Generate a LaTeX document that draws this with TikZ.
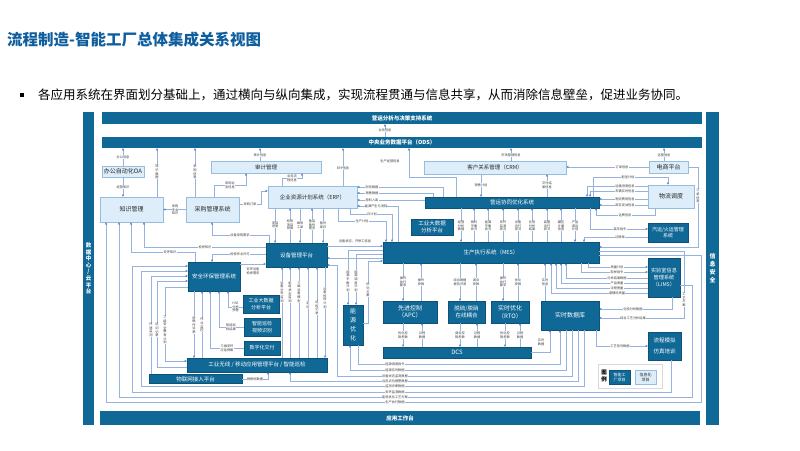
\documentclass[tikz,border=0pt]{standalone}
\usepackage{fontspec}
\setmainfont{Noto Sans CJK SC}
\usetikzlibrary{arrows.meta}
\definecolor{dk}{RGB}{16,104,150}
\definecolor{lt}{RGB}{221,238,250}
\definecolor{ltb}{RGB}{150,188,222}
\definecolor{lnc}{RGB}{150,178,222}
\definecolor{arc}{RGB}{60,110,185}
\definecolor{tbc}{RGB}{14,94,158}
\definecolor{labc}{RGB}{60,60,60}
\tikzset{
 bar/.style={fill=dk, text=white, inner sep=0, align=center, font=\fontsize{5.5}{6.5}\selectfont\bfseries},
 dbox/.style={fill=dk, draw=dk!80!black, line width=0.3pt, text=white, inner sep=0, align=center, font=\fontsize{5.5}{6.6}\selectfont},
 lbox/.style={fill=lt, draw=ltb, line width=0.5pt, text=black!85, inner sep=0, align=center, font=\fontsize{6}{7}\selectfont},
 conn/.style={draw=lnc, line width=0.5pt},
 arr/.style={conn, -{Stealth[length=2.4pt,width=2pt,color=arc]}},
 lab/.style={fill=white, inner sep=0.25pt, text=labc, align=center, font=\fontsize{3.2}{3.6}\selectfont},
}
\begin{document}
\begin{tikzpicture}[x=1pt,y=-1pt]
\fill[white] (0,0) rectangle (800,450);
\useasboundingbox (0,0) rectangle (800,450);

% title and bullet
\node[anchor=west, inner sep=0, text=tbc, font=\fontsize{15.5}{18}\selectfont\bfseries] (title) at (7,40) {流程制造-智能工厂总体集成关系视图};
\node[fill=black, minimum size=3.6, inner sep=0] (bsq) at (22,95) {};
\node[anchor=west, inner sep=0, font=\fontsize{12.5}{15}\selectfont] (bul) at (38,95) {各应用系统在界面划分基础上，通过横向与纵向集成，实现流程贯通与信息共享，从而消除信息壁垒，促进业务协同。};

% frame bars
\node[bar, minimum width=600, minimum height=12] (top) at (402,118) {营运分析与决策支持系统};
\node[bar, minimum width=600, minimum height=11] (ods) at (402,142.5) {中央业务数据平台（ODS）};
\node[bar, minimum width=600, minimum height=14] (app) at (400,418) {应用工作台};
\node[bar, minimum width=11, minimum height=313, font=\fontsize{5.5}{6.6}\selectfont\bfseries] (dc) at (88.5,268.5) {数\\据\\中\\心\\/\\云\\平\\台};
\node[bar, minimum width=13, minimum height=313, font=\fontsize{6}{8}\selectfont\bfseries] (xa) at (712.5,268.5) {信\\息\\安\\全};

% light boxes
\node[lbox, minimum width=42, minimum height=11] (oa) at (123,171.5) {办公自动化OA};
\node[lbox, minimum width=63, minimum height=25] (km) at (131.5,209.5) {知识管理};
\node[lbox, minimum width=53, minimum height=25] (cg) at (212.5,209.5) {采购管理系统};
\node[lbox, minimum width=110, minimum height=12, font=\fontsize{5.5}{6.5}\selectfont] (sj) at (266,167) {审计管理};
\node[lbox, minimum width=89, minimum height=22, font=\fontsize{5.5}{6.5}\selectfont] (erp) at (312.5,197) {企业资源计划系统（ERP）};
\node[lbox, minimum width=142, minimum height=13, font=\fontsize{5.5}{6.5}\selectfont] (crm) at (495,167.5) {客户关系管理（CRM）};
\node[lbox, minimum width=39, minimum height=12] (ds) at (668.5,167) {电商平台};
\node[lbox, minimum width=46, minimum height=23] (wl) at (671,196.5) {物流调度};

% dark boxes
\node[dbox, minimum width=174, minimum height=11] (yy) at (512,202.5) {营运协同优化系统};
\node[dbox, minimum width=42, minimum height=16] (bd1) at (432,227) {工业大数据\\分析平台};
\node[dbox, minimum width=216, minimum height=21] (mes) at (491,252.5) {生产执行系统（MES）};
\node[dbox, minimum width=40, minimum height=19, font=\fontsize{5}{6.2}\selectfont] (qy) at (668,232.5) {汽运/火运管理\\系统};
\node[dbox, minimum width=32, minimum height=39, font=\fontsize{5.2}{6.6}\selectfont] (lims) at (664,277.5) {实验室信息\\管理系统\\（LIMS）};
\node[dbox, minimum width=33, minimum height=28] (fz) at (664.5,346) {流程模拟\\[4pt]仿真培训};
\node[dbox, minimum width=61, minimum height=24] (sb) at (296.5,255) {设备管理平台};
\node[dbox, minimum width=52, minimum height=29] (aq) at (214,276.5) {安全环保管理系统};
\node[dbox, minimum width=36, minimum height=18, font=\fontsize{5}{6.2}\selectfont] (bd2) at (261,304) {工业大数据\\分析平台};
\node[dbox, minimum width=36, minimum height=18, font=\fontsize{5}{6.2}\selectfont] (xj) at (262,327) {智能巡检\\视频识别};
\node[dbox, minimum width=36, minimum height=14, font=\fontsize{5}{6.2}\selectfont] (jf) at (262,348) {数字化交付};
\node[dbox, minimum width=140, minimum height=14] (gy) at (257,365) {工业无线 / 移动应用管理平台 / 智能巡检};
\node[dbox, minimum width=93, minimum height=9] (wlw) at (195.5,379) {物联网接入平台};
\node[dbox, minimum width=20, minimum height=40, font=\fontsize{6}{9}\selectfont] (ny) at (353,325) {能\\源\\优\\化};
\node[dbox, minimum width=54, minimum height=22, font=\fontsize{6}{7.5}\selectfont] (apc) at (410,312) {先进控制\\（APC）};
\node[dbox, minimum width=37, minimum height=22, font=\fontsize{5.5}{7}\selectfont] (tl) at (466.5,312) {脱硫/脱硝\\在线耦合};
\node[dbox, minimum width=38, minimum height=22, font=\fontsize{6}{7.5}\selectfont] (rto) at (510,312) {实时优化\\（RTO）};
\node[dbox, minimum width=58, minimum height=29, font=\fontsize{6}{7.5}\selectfont] (sjk) at (570,315.5) {实时数据库};
\node[dbox, minimum width=148, minimum height=11, font=\fontsize{6}{7}\selectfont] (dcs) at (457,352.5) {DCS};

% legend
\node[draw=black!15, fill=white, line width=0.4pt, minimum width=64, minimum height=24, inner sep=0] (lgd) at (630,376) {};
\node[inner sep=0, align=center, font=\fontsize{5.5}{6.5}\selectfont\bfseries] (lgt) at (604,376) {图\\例};
\node[dbox, minimum width=21, minimum height=14, font=\fontsize{4}{5}\selectfont] (lg1) at (619.5,377) {智能工\\厂项目};
\node[lbox, minimum width=21, minimum height=14, font=\fontsize{4}{5}\selectfont] (lg2) at (645.5,377) {信息化\\项目};

% ---------- connectors: top ----------
\draw[arr] (ods.north -| 385,0) -- (top.south -| 385,0);
\node[lab] at (385,130.5) {业务信息};
\draw[arr] (oa.north) -- (oa.north |- ods.south);
\node[lab] at (123,157) {办公信息};
\draw[arr] (km.north -| 157,0) -- (ods.south -| 157,0);
\node[lab] at (157,172) {知\\识\\数\\据};
\draw[arr] (cg.north -| 195,0) -- (ods.south -| 195,0);
\node[lab] at (195,172) {采\\购\\信\\息};
\draw[arr] (sj.north -| 260,0) -- (ods.south -| 260,0);
\node[lab] at (260,155) {审计信息};
\draw[arr] (erp.north -| 343,0) -- (ods.south -| 343,0);
\node[lab] at (343,168) {ERP信息};
\draw[arr] (yy.north -| 456,0) -- (456,177) -- (409,177) -- (ods.south -| 409,0);
\node[lab] at (390,161) {生产经营信息};
\draw[arr] (crm.north -| 511,0) -- (ods.south -| 511,0);
\node[lab] at (511,155) {市场营销信息};
\draw[arr] (ds.north -| 664,0) -- (ods.south -| 664,0);
\node[lab] at (664,155) {运营信息};
\draw[arr] (ds.west) -- (crm.east |- ds.west);
\node[lab] at (622,167) {订单信息};
\draw[arr] (crm.south -| 481,0) -- (yy.north -| 481,0);
\node[lab] at (481,185) {销售计划};
\draw[arr] (yy.north -| 547,0) -- (crm.south -| 547,0);
\node[lab] at (547,185) {交付结\\果信息};

% ---------- left top ----------
\draw[arr] (oa.south) -- (oa.south |- km.north);
\node[lab] at (123,187) {经营知识};
\draw[arr] (cg.west) -- (km.east);
\node[lab] at (175,210) {采购\\专业\\知识};
\draw[arr] (cg.north -| 214,0) -- (214,185) -- (246,185) -- (sj.south -| 246,0);
\node[lab] at (230,185) {采购业\\务信息};
\draw[arr] (erp.north -| 282,0) -- (282,178) -- (302,178) -- (sj.south -| 302,0);
\node[lab] at (292,178) {业务流\\程信息};
\draw[arr] (cg.east |- 0,204) -- (261,204) -- (261,191) -- (erp.west |- 0,191);
\node[lab] at (250,204) {采购订单};

% ---------- ERP - equipment ----------
\draw[arr] (erp.south -| 275,0) -- (sb.north -| 275,0);
\node[lab] at (275,225) {项目\\进度};
\draw[arr] (sb.north -| 290,0) -- (erp.south -| 290,0);
\node[lab] at (290,225) {检修\\项目\\预算};
\draw[arr] (erp.south -| 300,0) -- (sb.north -| 300,0);
\node[lab] at (300,225) {维修\\工单};
\draw[arr] (sb.north -| 312,0) -- (erp.south -| 312,0);
\node[lab] at (312,225) {备品\\备件\\需求};
\draw[arr] (erp.south -| 323,0) -- (sb.north -| 323,0);
\node[lab] at (323,225) {备件\\库存};

% ---------- ERP right ----------
\draw[arr] (yy.north -| 443,0) -- (443,187) -- (erp.east |- 0,187);
\node[lab] at (372,187) {财务数据};
\draw[arr] (yy.north -| 433,0) -- (433,193) -- (erp.east |- 0,193);
\node[lab] at (372,193) {销售数据};
\draw[arr] (yy.west |- 0,200) -- (erp.east |- 0,200);
\node[lab] at (372,200) {原料入库};
\draw[arr] (mes.north -| 398,0) -- (398,206) -- (erp.east |- 0,206);
\node[lab] at (376,206) {能源产生与消耗};
\draw[arr] (erp.south -| 350,0) -- (350,214) -- (392,214) -- (mes.north -| 392,0);
\node[lab] at (372,214) {日计划};
\draw[arr] (erp.south -| 338,0) -- (338,221) -- (386,221) -- (mes.north -| 386,0);
\node[lab] at (362,221) {生产计划};

% ---------- operations - MES ----------
\draw[arr] (yy.south -| 461,0) -- (mes.north -| 461,0);
\node[lab] at (461,226) {经营\\分析\\数据};
\foreach \xx/\tt in {474/{物料\\平衡\\状况},488/{能源\\平衡\\状况},503/{安环\\监测\\状况},518/{设备\\运行\\状况},532/{化验\\分析\\结果},547/{装置\\运行\\状况},561/{罐区\\计量\\信息}}{
  \draw[arr] (mes.north -| \xx,0) -- (yy.south -| \xx,0);
  \node[lab] at (\xx,226) {\tt};
}
\draw[arr] (yy.south -| 575,0) -- (mes.north -| 575,0);
\node[lab] at (575,226) {产品\\调运\\计划};

% ---------- logistics ----------
\draw[arr] (yy.north -| 593,0) -- (593,177) -- (668,177) -- (wl.north -| 668,0);
\node[lab] at (628,177) {配送计划};
\draw[arr] (wl.west |- 0,186) -- (587,186) -- (yy.north -| 587,0);
\node[lab] at (625,186) {运输进度信息};
\draw[arr] (wl.west |- 0,191) -- (590,191) -- (yy.north -| 590,0);
\node[lab] at (625,191.5) {车辆实时信息};
\draw[arr] (wl.west |- 0,199) -- (yy.east |- 0,199);
\node[lab] at (625,199) {物流费用信息};
\draw[arr] (wl.west |- 0,205) -- (yy.east |- 0,205);
\node[lab] at (625,205) {库存变动信息};
\draw[arr] (wl.south -| 655,0) -- (655,215) -- (596,215) -- (yy.south -| 596,0);
\node[lab] at (625,215) {运费信息};
\draw[arr] (yy.south -| 590,0) -- (590,229) -- (qy.west |- 0,229);
\node[lab] at (620,229) {装车指令};
\draw[arr] (qy.west |- 0,237) -- (584,237) -- (mes.north -| 584,0);
\node[lab] at (620,237) {过磅单};
\draw[arr] (ds.east) -- (698,167) -- (698,247) -- (mes.east |- 0,247);
\node[lab] at (698,196) {订\\单\\信\\息};

% ---------- LIMS ----------
\draw[arr] (mes.south -| 588,0) -- (588,267) -- (lims.west |- 0,267);
\node[lab] at (617,267) {质量计划};
\draw[arr] (mes.south -| 581,0) -- (581,272) -- (lims.west |- 0,272);
\node[lab] at (617,272) {取样指令};
\draw[arr] (lims.west |- 0,278) -- (566,278) -- (mes.south -| 566,0);
\node[lab] at (617,278) {分析结果数据};
\draw[arr] (lims.west |- 0,283) -- (561,283) -- (mes.south -| 561,0);
\node[lab] at (617,283) {产品质量};
\draw[arr] (lims.west |- 0,288) -- (556,288) -- (mes.south -| 556,0);
\node[lab] at (617,288) {过程质量};
\draw[arr] (lims.west |- 0,293) -- (551,293) -- (mes.south -| 551,0);
\node[lab] at (617,293) {原辅料质量};
\draw[arr] (lims.south -| 672,0) -- (672,309) -- (sjk.east |- 0,309);
\node[lab] at (633,309) {化验分析数据};
\draw[arr] (mes.east |- 0,251) -- (684,251) -- (684,318) -- (sjk.east |- 0,318);
\node[lab] at (633,318) {综合工艺分析结果};
\node[lab] at (684,300) {工\\艺\\方\\案};
\draw[arr] (sjk.south -| 596,0) -- (596,346) -- (fz.west |- 0,346);
\node[lab] at (620,346) {工艺信号数据};

% ---------- MES - control layer ----------
\draw[arr] (mes.south -| 403,0) -- (apc.north -| 403,0);
\node[lab] at (403,282) {操作\\执行\\要求};
\draw[arr] (apc.north -| 421,0) -- (mes.south -| 421,0);
\node[lab] at (421,282) {操作\\参数};
\draw[arr] (mes.south -| 460,0) -- (tl.north -| 460,0);
\node[lab] at (460,282) {综合数据\\报告评测};
\draw[arr] (tl.north -| 476,0) -- (mes.south -| 476,0);
\node[lab] at (476,282) {调合\\参数};
\draw[arr] (mes.south -| 503,0) -- (rto.north -| 503,0);
\node[lab] at (503,282) {操作\\执行\\要求};
\draw[arr] (rto.north -| 518,0) -- (mes.south -| 518,0);
\node[lab] at (518,282) {优化\\参数};
\draw[arr] (sjk.north -| 545,0) -- (mes.south -| 545,0);
\node[lab] at (545,282) {实时\\信息};

% ---------- control - DCS ----------
\draw[arr] (apc.south -| 403,0) -- (dcs.north -| 403,0);
\node[lab] at (403,335) {优化控\\制参数};
\draw[arr] (dcs.north -| 422,0) -- (apc.south -| 422,0);
\node[lab] at (422,335) {过程\\数据};
\draw[arr] (tl.south -| 460,0) -- (dcs.north -| 460,0);
\node[lab] at (460,335) {调合控\\制参数};
\draw[arr] (dcs.north -| 477,0) -- (tl.south -| 477,0);
\node[lab] at (477,335) {过程\\数据};
\draw[arr] (rto.south -| 505,0) -- (dcs.north -| 505,0);
\node[lab] at (505,335) {优化控\\制参数};
\draw[arr] (dcs.north -| 520,0) -- (rto.south -| 520,0);
\node[lab] at (520,335) {过程\\数据};
\draw[arr] (dcs.east) -- (550,352.5) -- (sjk.south -| 550,0);
\node[lab] at (541,342) {实时\\数据};

% ---------- equipment / energy / MES ----------
\draw[arr] (sb.east |- 0,246) -- (mes.west |- 0,246);
\node[lab] at (355,241) {设备状态、开停工信息};
\draw[arr] (mes.west |- 0,250) -- (348,250) -- (ny.north -| 348,0);
\node[lab] at (348,281) {能\\源\\平\\衡\\计\\划};
\draw[arr] (mes.west |- 0,254) -- (356,254) -- (ny.north -| 356,0);
\node[lab] at (356,281) {能\\源\\调\\度\\计\\划};
\draw[arr] (mes.west |- 0,258) -- (sb.east |- 0,258);
\draw[arr] (ny.east |- 0,323) -- (368,323) -- (368,261) -- (mes.west |- 0,261);
\node[lab] at (368,290) {优\\化\\方\\案};

% ---------- equipment - left ----------
\draw[arr] (sb.north -| 269,0) -- (269,235) -- (212,235) -- (cg.south -| 212,0);
\node[lab] at (240,235) {设备采购需求};
\draw[arr] (sb.west |- 0,247) -- (144,247) -- (km.south -| 144,0);
\node[lab] at (205,247) {检修知识};
\draw[arr] (sb.west |- 0,254) -- (212,254) -- (aq.north -| 212,0);
\node[lab] at (240,254) {检修作业许可};
\draw[arr] (aq.north -| 195,0) -- (195,252) -- (131,252) -- (km.south -| 131,0);
\node[lab] at (170,252) {安环知识};
\draw[arr] (aq.east |- 0,264) -- (sb.west |- 0,264);
\node[lab] at (253,271) {安环设备\\检修需求};

% equipment - wireless platform
\draw[arr] (gy.north -| 282,0) -- (sb.south -| 282,0);
\node[lab] at (282,292) {设\\备\\分\\布\\监\\测};
\draw[arr] (gy.north -| 290,0) -- (sb.south -| 290,0);
\node[lab] at (290,292) {机\\组\\状\\态\\监\\测};
\draw[arr] (gy.north -| 299,0) -- (sb.south -| 299,0);
\node[lab] at (299,292) {三\\维\\设\\备\\模\\型};
\draw[arr] (gy.north -| 308,0) -- (sb.south -| 308,0);
\node[lab] at (308,305) {定\\位};
\draw[arr] (gy.north -| 317,0) -- (sb.south -| 317,0);
\node[lab] at (317,308) {巡\\检\\记\\录};
\draw[arr] (sb.south -| 325,0) -- (gy.north -| 325,0);
\node[lab] at (325,298) {设\\备\\检\\修\\计\\划};

% ---------- safety ----------
\draw[arr] (aq.south -| 194,0) -- (gy.north -| 194,0);
\node[lab] at (194,325) {特\\殊\\作\\业\\票};
\draw[arr] (gy.north -| 202,0) -- (aq.south -| 202,0);
\node[lab] at (202,325) {作\\业\\监\\控};
\draw[arr] (jf.west) -- (210,348) -- (aq.south -| 210,0);
\node[lab] at (227,348) {三维安环\\应急预案};
\draw[arr] (xj.west) -- (219,327) -- (aq.south -| 219,0);
\node[lab] at (231,327) {智能巡\\检结果};
\draw[arr] (bd2.west |- 0,307) -- (228,307) -- (aq.south -| 228,0);
\node[lab] at (235.5,307) {HSE\\分析\\预警};
\draw[arr] (aq.west |- 0,287) -- (165,287) -- (165,361) -- (gy.west |- 0,361);
\node[lab] at (165,330) {三\\级\\安\\全\\教\\育\\计\\划};
\draw[arr] (gy.west |- 0,367) -- (157,367) -- (157,281) -- (aq.west |- 0,281);
\node[lab] at (157,330) {培\\训\\记\\录};
\draw[arr] (wlw.north -| 151,0) -- (151,276) -- (aq.west |- 0,276);
\node[lab] at (151,330) {环\\境\\监\\测};
\draw[arr] (wlw.east) -- (268,379) -- (gy.south -| 268,0);
\node[lab] at (255,379) {物联网数据};

% ---------- bottom loops ----------
\draw[arr] (ny.south -| 358,0) -- (358,364) -- (560,364) -- (sjk.south -| 560,0);
\node[lab] at (395,364) {能源调度指令};
\draw[arr] (sjk.south -| 566,0) -- (566,370) -- (350,370) -- (ny.south -| 350,0);
\node[lab] at (395,370) {能源实时数据};
\draw[arr] (sjk.south -| 572,0) -- (572,376) -- (337,376) -- (337,265) -- (sb.east |- 0,265);
\node[lab] at (395,376) {设备状态监测数据};
\draw[arr] (sjk.south -| 578,0) -- (578,381) -- (290,381) -- (gy.south -| 290,0);
\node[lab] at (395,381) {当前点位报警数据};
\draw[arr] (sjk.south -| 584,0) -- (584,386) -- (141,386) -- (141,271) -- (aq.west |- 0,271);
\node[lab] at (395,386) {监测诊断数据};
\draw[arr] (fz.south -| 671,0) -- (671,392) -- (132,392) -- (132,266) -- (aq.west |- 0,266);
\node[lab] at (395,392) {安环监测数据};
\draw[arr] (lims.east |- 0,285) -- (692,285) -- (692,397) -- (119,397) -- (km.south -| 119,0);
\node[lab] at (395,397) {能耗优化工艺方案};
\draw[arr] (mes.east |- 0,255) -- (701,255) -- (701,402) -- (106,402) -- (km.south -| 106,0);
\node[lab] at (395,402) {生产执行数据};
\end{tikzpicture}
\end{document}
